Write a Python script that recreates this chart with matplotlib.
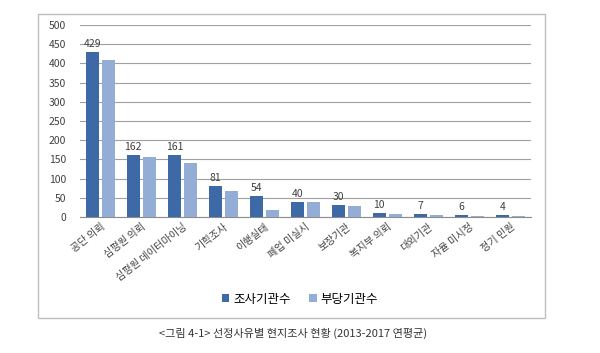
import numpy as np
import matplotlib
matplotlib.use('Agg')
import matplotlib.pyplot as plt
from matplotlib.patches import Rectangle

plt.rcParams['font.family'] = ['Noto Sans CJK KR', 'DejaVu Sans']

categories = ['공단 의뢰', '심평원 의뢰', '심평원 데이터마이닝', '기획조사', '이행실태',
              '폐업 미실시', '보장기관', '복지부 의뢰', '대외기관', '자율 미시정', '정기 민원']
surveyed = [429, 162, 161, 81, 54, 40, 30, 10, 7, 6, 4]
improper = [409, 155, 140, 68, 19, 39, 29, 8, 6, 2, 2]
yticks = [0, 50, 100, 150, 200, 250, 300, 350, 400, 450, 500]

dark = '#3D69A6'
light = '#93ADD6'

fig = plt.figure(figsize=(6, 3.53), dpi=100)
ax = fig.add_axes([80 / 600, 1 - 217 / 353, (531 - 80) / 600, (217 - 25) / 353])

x = np.arange(len(categories))
ax.bar(x - 0.2, surveyed, width=0.32, color=dark, label='조사기관수', zorder=3)
ax.bar(x + 0.2, improper, width=0.32, color=light, label='부당기관수', zorder=3)

# value labels on the dark bars
for xi, v in zip(x, surveyed):
    ax.text(xi - 0.2, v + 8, str(v), ha='center', va='bottom', fontsize=7.5, color='#404040')

ax.set_xlim(-0.5, len(categories) - 0.5)
ax.set_ylim(0, 500)
ax.set_yticks(yticks)
ax.yaxis.grid(True, color='#a0a0a0', linewidth=0.8, zorder=0)
for s in ['top', 'right', 'left']:
    ax.spines[s].set_visible(False)
ax.spines['bottom'].set_color('#8c8c8c')
ax.tick_params(axis='both', length=0, labelsize=7.5, colors='#404040')
ax.tick_params(axis='y', pad=10)
ax.set_xticks(x)
ax.set_xticklabels(categories, rotation=38, ha='right', rotation_mode='anchor', fontsize=7.3)

ax.legend(loc='center', bbox_to_anchor=(300 / 600, 1 - 299 / 353), bbox_transform=fig.transFigure,
          ncol=2, frameon=False, fontsize=9, handlelength=0.6, handleheight=0.6,
          handletextpad=0.3, columnspacing=1.5)

# outer chart frame
fig.patches.append(Rectangle((38 / 600, 1 - 318 / 353), (545 - 38) / 600, (318 - 14) / 353,
                             transform=fig.transFigure, fill=False, edgecolor='#bfbfbf', linewidth=1))

fig.text(293 / 600, 1 - 333 / 353, '<그림 4-1> 선정사유별 현지조사 현황 (2013-2017 연평균)',
         ha='center', va='center', fontsize=8, color='#333333')

fig.savefig('out.png', dpi=100)
